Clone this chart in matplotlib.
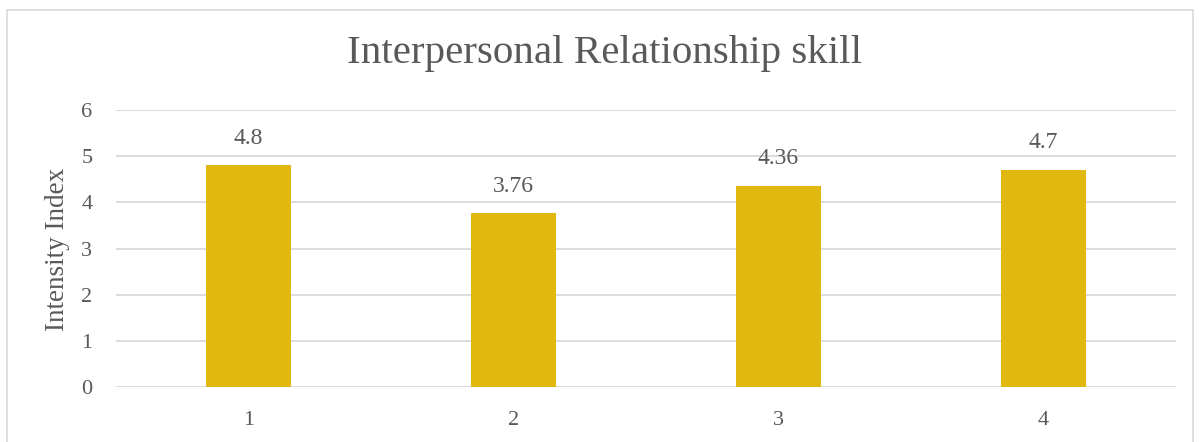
import matplotlib
matplotlib.use("Agg")
import matplotlib.pyplot as plt
from matplotlib.patches import Rectangle

categories = ["1", "2", "3", "4"]
values = [4.8, 3.76, 4.36, 4.7]
value_labels = ["4.8", "3.76", "4.36", "4.7"]
yticks = [0, 1, 2, 3, 4, 5, 6]

plt.rcParams['font.family'] = ['Liberation Serif', 'DejaVu Serif']
W, H = 1199, 442
fig = plt.figure(figsize=(W / 100, H / 100), dpi=100)
ax = fig.add_axes([116 / W, 1 - 387 / H, (1176 - 116) / W, (387 - 110) / H])

txt = "#595959"
x = list(range(1, len(categories) + 1))
ax.bar(x, values, width=0.317, color="#E1B80F", zorder=3)
for xi, v, lab in zip(x, values, value_labels):
    ax.annotate(lab, (xi, v), xytext=(0, 12), textcoords="offset points",
                ha="center", va="bottom", fontsize=17, color=txt)

ax.set_xlim(0.5, 4.5)
ax.set_ylim(0, 6)
ax.set_xticks(x)
ax.set_xticklabels(categories)
ax.set_yticks(yticks)
ax.grid(axis="y", color="#d9d9d9", linewidth=1.3, zorder=0)
for s in ax.spines.values():
    s.set_visible(False)
ax.tick_params(axis="both", length=0, labelsize=16, labelcolor=txt)
ax.tick_params(axis="y", pad=17)
ax.tick_params(axis="x", pad=17)
ax.text((57 - 116) / 1060, (387 - 249) / 277, "Intensity Index", rotation=90,
        ha="center", va="center", fontsize=19.5, color=txt, transform=ax.transAxes)
fig.text(605 / W, 1 - 54 / H, "Interpersonal Relationship skill", ha="center",
         va="center", fontsize=29.5, color=txt)

fig.patches.append(Rectangle((7 / W, -0.05), (1193 - 7) / W, 1 - 10 / H + 0.05,
                             transform=fig.transFigure, fill=False,
                             edgecolor="#d9d9d9", linewidth=1.2))
fig.savefig("out.png", dpi=100, facecolor="white")
